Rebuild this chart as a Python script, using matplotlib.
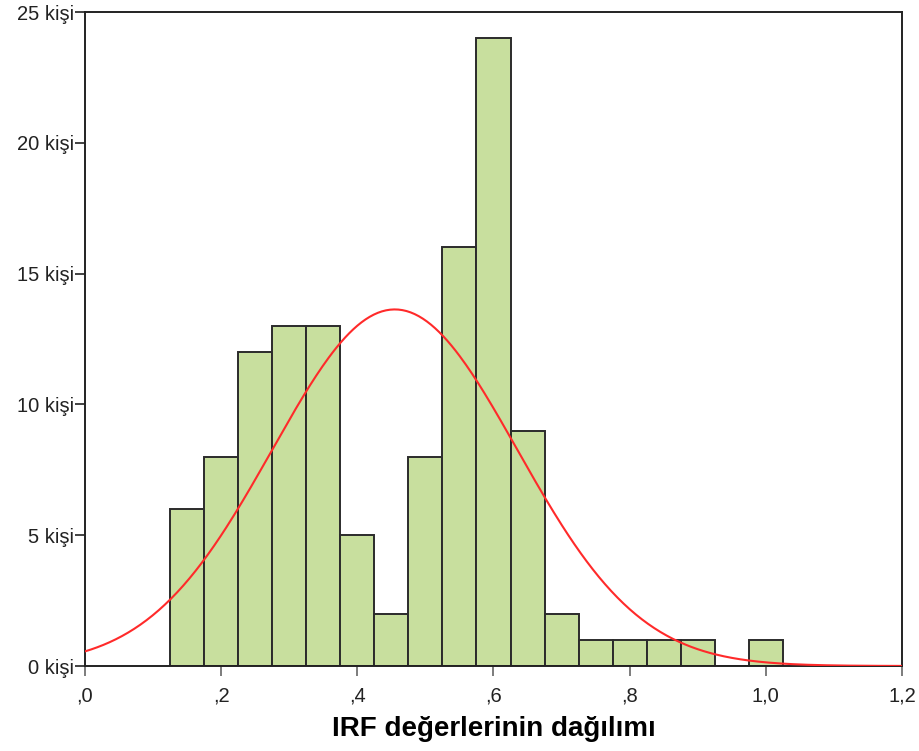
import matplotlib.pyplot as plt
import numpy as np

plt.rcParams["font.family"] = ["Liberation Sans", "DejaVu Sans"]

# histogram bins (width 0.05) and counts
bin_edges = np.round(np.arange(0.125, 1.026, 0.05), 3)
counts = [6, 8, 12, 13, 13, 5, 2, 8, 16, 24, 9, 2, 1, 1, 1, 1, 0, 1]

# fitted normal curve parameters
mean = 0.455
sd = 0.180
n_total = sum(counts)
bin_width = 0.05

x_ticks = [0.0, 0.2, 0.4, 0.6, 0.8, 1.0, 1.2]
x_tick_labels = [",0", ",2", ",4", ",6", ",8", "1,0", "1,2"]
y_ticks = [0, 5, 10, 15, 20, 25]
y_tick_labels = [f"{v} kişi" for v in y_ticks]

fig = plt.figure(figsize=(9.2, 7.51), dpi=100)
ax = fig.add_axes([85 / 920, 1 - 666 / 751, (902 - 85) / 920, (666 - 12) / 751])

ax.bar(bin_edges[:-1], counts, width=bin_width, align="edge",
       color="#c8df9e", edgecolor="#2b2b2b", linewidth=1.4, zorder=2)

xs = np.linspace(0, 1.2, 400)
ys = n_total * bin_width / (sd * np.sqrt(2 * np.pi)) * np.exp(-(xs - mean) ** 2 / (2 * sd ** 2))
ax.plot(xs, ys, color="#ff2a2a", linewidth=1.5, zorder=3)

ax.set_xlim(0, 1.2)
ax.set_ylim(0, 25)
ax.set_xticks(x_ticks)
ax.set_xticklabels(x_tick_labels)
ax.set_yticks(y_ticks)
ax.set_yticklabels(y_tick_labels)
ax.tick_params(axis="both", direction="out", length=7, width=1.2, colors="#222222",
               labelsize=14.5, pad=1)
ax.tick_params(axis="x", colors="#666666", labelcolor="#222222", pad=8)
for s in ax.spines.values():
    s.set_color("#222222")
    s.set_linewidth(1.4)

ax.set_xlabel("IRF değerlerinin dağılımı", fontsize=20, fontweight="bold", labelpad=7)

fig.savefig("out.png", dpi=100)
